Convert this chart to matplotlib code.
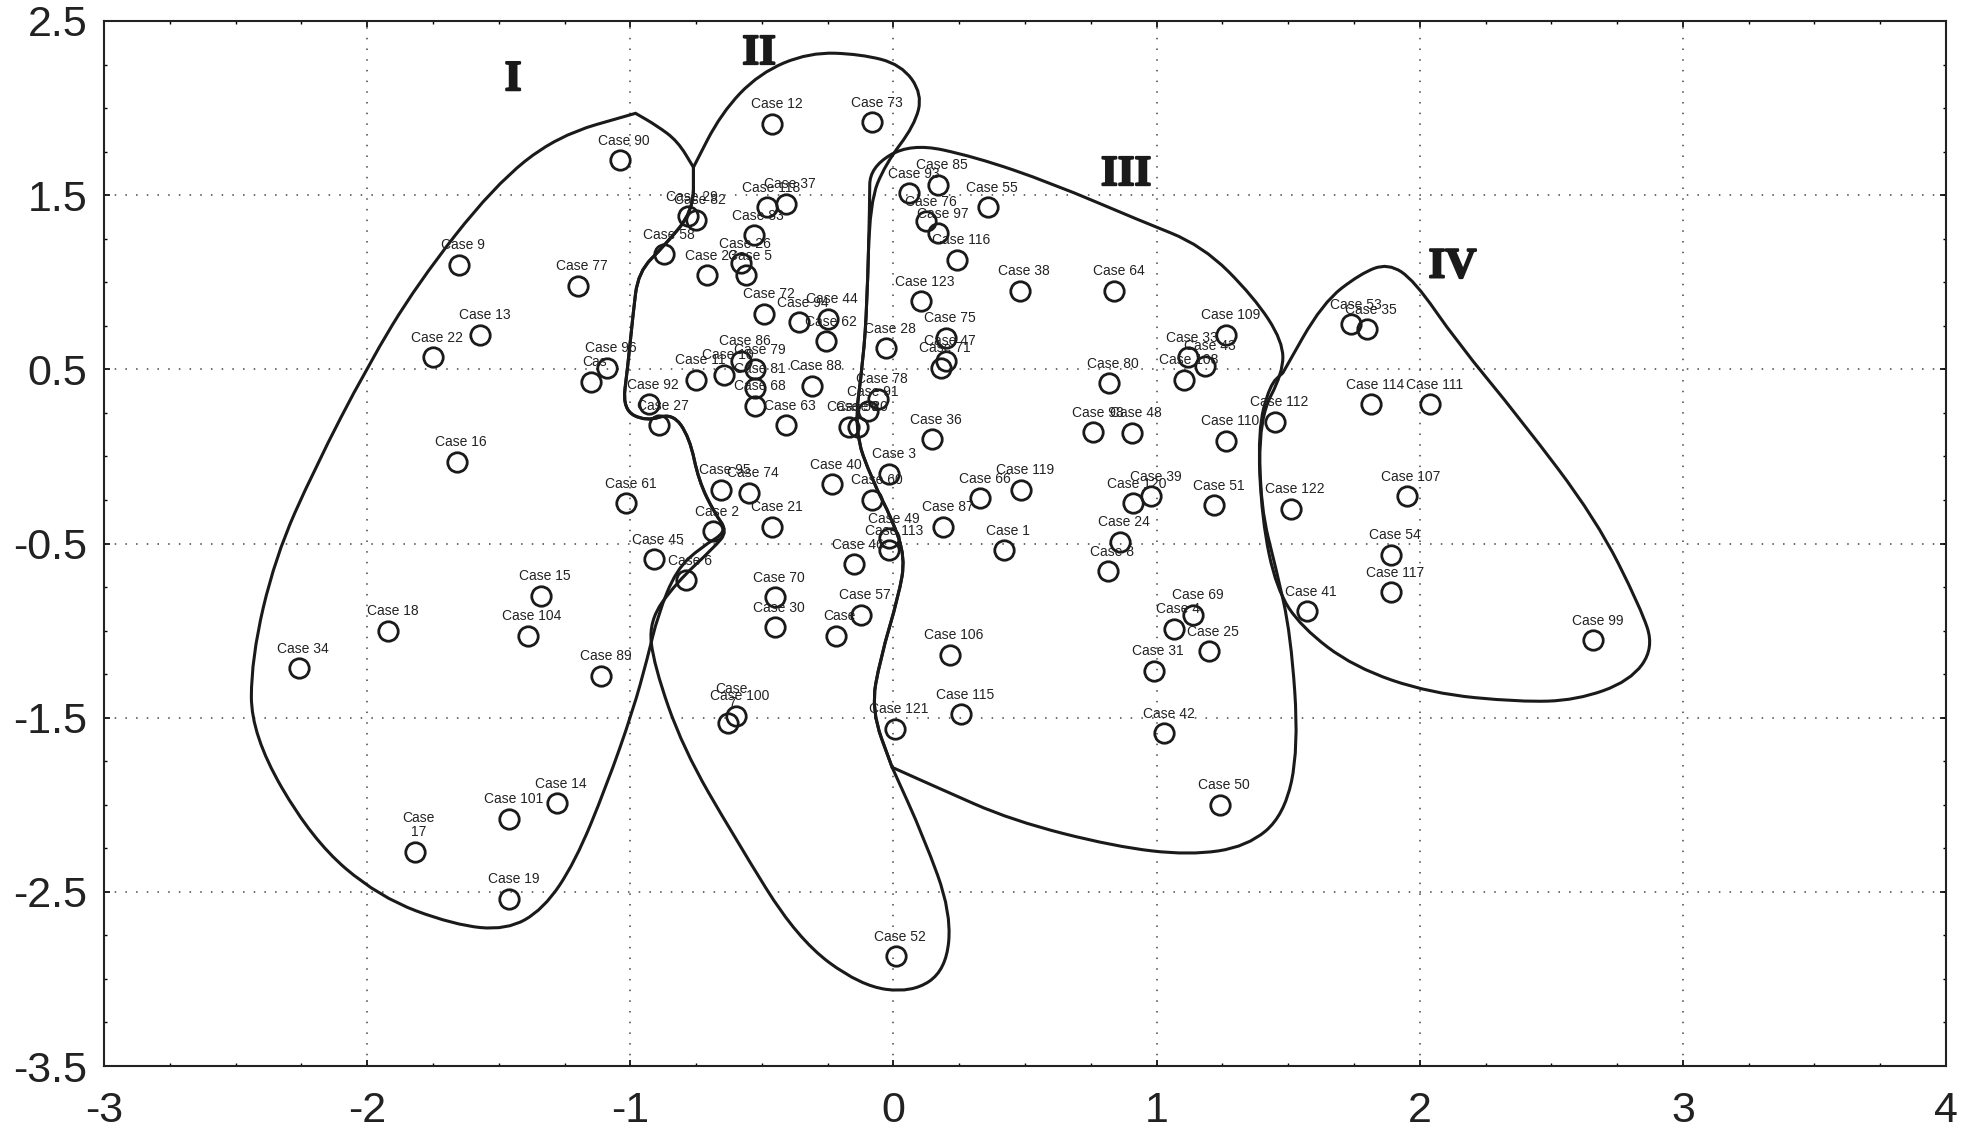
import matplotlib
matplotlib.use('Agg')
import matplotlib.pyplot as plt
import matplotlib.patheffects as pe
from matplotlib.patches import PathPatch
from matplotlib.path import Path

plt.rcParams['font.family'] = ['Liberation Sans', 'DejaVu Sans']

# Case labels and their coordinates
case_labels = [
    'Case 90', 'Case 12', 'Case 73', 'Case 85', 'Case 93', 'Case 76', 'Case 97', 'Case 55', 'Case 116',
    'Case 37', 'Case 118', 'Case 29', 'Case 82', 'Case 83', 'Case 26', 'Case 5', 'Case 23', 'Case 58',
    'Case 77', 'Case 9', 'Case 13', 'Case 22', 'Case 16', 'Case 96', 'Cas', 'Case 92', 'Case 27',
    'Case 72', 'Case 94', 'Case 44', 'Case 62', 'Case 28', 'Case 123', 'Case 75', 'Case 47', 'Case 71',
    'Case 86', 'Case 79', 'Case 81', 'Case 68', 'Case 10', 'Case 11', 'Case 88', 'Case 63', 'Case 78',
    'Case 91', 'Case 59', 'Case 20', 'Case 36', 'Case 3', 'Case 60', 'Case 40', 'Case 95', 'Case 74',
    'Case 61', 'Case 2', 'Case 21', 'Case 45', 'Case 6', 'Case 49', 'Case 113', 'Case 46', 'Case 87',
    'Case 66', 'Case 119', 'Case 1', 'Case 70', 'Case 30', 'Case 57', 'Case', 'Case 106', 'Case 38',
    'Case 64', 'Case 80', 'Case 98', 'Case 48', 'Case 109', 'Case 33', 'Case 43', 'Case 108', 'Case 110',
    'Case 112', 'Case 39', 'Case 120', 'Case 51', 'Case 24', 'Case 8', 'Case 122', 'Case 69', 'Case 4',
    'Case 25', 'Case 31', 'Case 42', 'Case 50', 'Case 41', 'Case 53', 'Case 35', 'Case 114', 'Case 111',
    'Case 107', 'Case 54', 'Case 117', 'Case 99', 'Case 18', 'Case 15', 'Case 104', 'Case 89', 'Case 34',
    'Case 100', 'Case\n7', 'Case 121', 'Case 115', 'Case 14', 'Case 101', 'Case\n17', 'Case 19', 'Case 52',
]
case_x = [
    -1.04, -.46, -.08, .17, .06, .125, .17, .36, .24,
    -.41, -.48, -.78, -.75, -.53, -.58, -.56, -.71, -.87,
    -1.2, -1.65, -1.57, -1.75, -1.66, -1.09, -1.15, -.93, -.89,
    -.49, -.36, -.25, -.255, -.03, .105, .2, .2, .18,
    -.58, -.525, -.525, -.525, -.645, -.75, -.31, -.41, -.06,
    -.095, -.17, -.135, .145, -.015, -.08, -.235, -.655, -.55,
    -1.015, -.685, -.46, -.91, -.79, -.015, -.015, -.15, .19,
    .33, .485, .42, -.45, -.45, -.125, -.22, .215, .48,
    .84, .82, .76, .905, 1.265, 1.12, 1.185, 1.105, 1.265,
    1.45, .98, .91, 1.22, .86, .815, 1.51, 1.14, 1.065,
    1.2, .99, 1.03, 1.24, 1.57, 1.74, 1.8, 1.815, 2.04,
    1.95, 1.89, 1.89, 2.66, -1.92, -1.34, -1.39, -1.11, -2.26,
    -.6, -.63, .005, .255, -1.28, -1.46, -1.82, -1.46, .01,
]
case_y = [
    1.7, 1.91, 1.92, 1.56, 1.51, 1.35, 1.28, 1.43, 1.13,
    1.45, 1.43, 1.38, 1.36, 1.27, 1.11, 1.04, 1.04, 1.16,
    .98, 1.1, .7, .57, -.03, .51, .43, .3, .18,
    .82, .77, .79, .66, .62, .89, .68, .55, .51,
    .55, .5, .39, .29, .47, .44, .405, .18, .33,
    .26, .17, .17, .1, -.1, -.25, -.16, -.19, -.21,
    -.27, -.43, -.405, -.59, -.71, -.47, -.54, -.62, -.405,
    -.24, -.19, -.54, -.81, -.98, -.91, -1.03, -1.14, .95,
    .95, .42, .14, .135, .7, .57, .52, .44, .09,
    .2, -.23, -.27, -.28, -.49, -.66, -.3, -.91, -.99,
    -1.12, -1.23, -1.59, -2.0, -.89, .76, .73, .3, .3,
    -.23, -.565, -.78, -1.055, -1.0, -.8, -1.03, -1.26, -1.215,
    -1.49, -1.53, -1.565, -1.48, -1.99, -2.08, -2.27, -2.54, -2.87,
]

# Hand drawn cluster outlines, a repeated point makes a sharp corner
outline_1 = [(-.98, 1.97), (-.98, 1.97), (-.9, 1.9), (-.82, 1.81), (-.76, 1.66), (-.76, 1.66), (-.76, 1.41),
             (-.87, 1.21), (-.97, 1.06), (-.99, .81), (-1.01, .51), (-1.03, .27), (-.94, .2), (-.84, .25),
             (-.775, .11), (-.74, -.14), (-.68, -.325), (-.63, -.43), (-.73, -.52), (-.825, -.65), (-.895, -.91),
             (-.935, -1.16), (-.99, -1.46), (-1.09, -1.89), (-1.21, -2.33), (-1.33, -2.6), (-1.47, -2.72),
             (-1.67, -2.69), (-1.955, -2.53), (-2.21, -2.2), (-2.44, -1.6), (-2.44, -1.16), (-2.35, -.58),
             (-2.2, -.07), (-2.0, .515), (-1.81, .99), (-1.52, 1.55), (-1.28, 1.84)]
outline_2 = [(-.76, 1.66), (-.76, 1.66), (-.655, 1.97), (-.51, 2.2), (-.32, 2.32), (-.125, 2.31), (.03, 2.25),
             (.11, 2.08), (.08, 1.9), (-.03, 1.68), (-.09, 1.46), (-.1, .88), (-.115, .55), (-.15, .15),
             (-.08, -.14), (-.005, -.36), (.045, -.58), (.02, -.8), (-.05, -1.16), (-.085, -1.455),
             (-.005, -1.785), (-.005, -1.785), (.115, -2.185), (.22, -2.62), (.2, -2.95), (.07, -3.08),
             (-.125, -3.04), (-.365, -2.77), (-.605, -2.185), (-.8, -1.675), (-.91, -1.2), (-.93, -.945),
             (-.825, -.725), (-.68, -.52), (-.63, -.43), (-.68, -.325), (-.74, -.14), (-.775, .11), (-.84, .25),
             (-.94, .2), (-1.03, .27), (-1.01, .51), (-.99, .81), (-.97, 1.06), (-.87, 1.21), (-.76, 1.41)]
outline_3 = [(-.09, 1.66), (.065, 1.8), (.31, 1.72), (.6, 1.57), (.935, 1.355), (1.175, 1.21), (1.37, .915),
             (1.48, .66), (1.48, .48), (1.39, .22), (1.395, -.29), (1.455, -.65), (1.51, -1.02), (1.54, -1.675),
             (1.485, -2.06), (1.345, -2.24), (1.125, -2.29), (.84, -2.24), (.45, -2.09), (.165, -1.9),
             (-.005, -1.785), (-.005, -1.785), (-.085, -1.455), (-.05, -1.16), (.02, -.8), (.045, -.58),
             (-.005, -.36), (-.08, -.14), (-.15, .15), (-.115, .55), (-.1, .88), (-.09, 1.46)]
outline_4 = [(1.48, .48), (1.48, .48), (1.63, .88), (1.775, 1.05), (1.88, 1.11), (1.98, 1.01), (2.14, .66),
             (2.38, .22), (2.67, -.36), (2.84, -.87), (2.89, -1.1), (2.8, -1.29), (2.595, -1.4), (2.38, -1.41),
             (2.04, -1.36), (1.75, -1.21), (1.55, -.98), (1.455, -.76), (1.4, -.36), (1.385, .15), (1.43, .41)]
outlines = [outline_1, outline_2, outline_3, outline_4]

cluster_names = ['I', 'II', 'III', 'IV']
cluster_x = [-1.445, -.51, .885, 2.125]
cluster_y = [2.16, 2.31, 1.615, 1.085]

x_ticks = [-3, -2, -1, 0, 1, 2, 3, 4]
y_ticks = [-3.5, -2.5, -1.5, -0.5, 0.5, 1.5, 2.5]


def smooth_closed(points):
    # quadratic curve through the midpoints of the control points
    n = len(points)
    mid = [((points[i][0] + points[(i + 1) % n][0]) / 2, (points[i][1] + points[(i + 1) % n][1]) / 2)
           for i in range(n)]
    verts = [mid[-1]]
    codes = [Path.MOVETO]
    for i in range(n):
        verts += [points[i], mid[i]]
        codes += [Path.CURVE3, Path.CURVE3]
    return Path(verts, codes)


fig = plt.figure(figsize=(19.85, 11.32), dpi=100)
ax = fig.add_axes([104 / 1985, 1 - 1066 / 1132, (1946 - 104) / 1985, (1066 - 21) / 1132])
ax.set_xlim(-3, 4)
ax.set_ylim(-3.5, 2.5)

ax.grid(True, color='#444444', linestyle=(0, (1, 6)), linewidth=1.1)
ax.set_axisbelow(True)

for outline in outlines:
    ax.add_patch(PathPatch(smooth_closed(outline), facecolor='none', edgecolor='#1a1a1a', linewidth=2.2))

ax.plot(case_x, case_y, 'o', markersize=14, markerfacecolor='none', markeredgecolor='#1a1a1a',
        markeredgewidth=2.0, linestyle='none')

for label, x, y in zip(case_labels, case_x, case_y):
    ax.annotate(label, (x, y), xytext=(3, 9), textcoords='offset points', ha='center', va='bottom',
                fontsize=10, color='#222222', linespacing=1.0)

for name, x, y in zip(cluster_names, cluster_x, cluster_y):
    ax.text(x, y, name, family='Liberation Serif', fontweight='bold', fontsize=31, ha='center', va='center',
            color='#1a1a1a', path_effects=[pe.withStroke(linewidth=1.5, foreground='#1a1a1a')])

ax.set_xticks(x_ticks)
ax.set_yticks(y_ticks)
ax.set_xticks([v / 4 for v in range(-12, 17)], minor=True)
ax.set_yticks([v / 4 for v in range(-14, 11)], minor=True)
ax.set_xticklabels(['-3', '-2', '-1', '0', '1', '2', '3', '4'])
ax.set_yticklabels(['-3.5', '-2.5', '-1.5', '-0.5', '0.5', '1.5', '2.5'])
ax.tick_params(axis='both', which='major', direction='in', length=4, width=1.2, labelsize=31, pad=12, top=True,
               right=True, labelcolor='#222222')
ax.tick_params(axis='x', which='major', pad=18)
ax.tick_params(axis='both', which='minor', direction='in', length=2, width=1.0, top=True, right=True)
for spine in ax.spines.values():
    spine.set_linewidth(1.5)
    spine.set_color('#222222')

plt.savefig('out.png', dpi=100)
